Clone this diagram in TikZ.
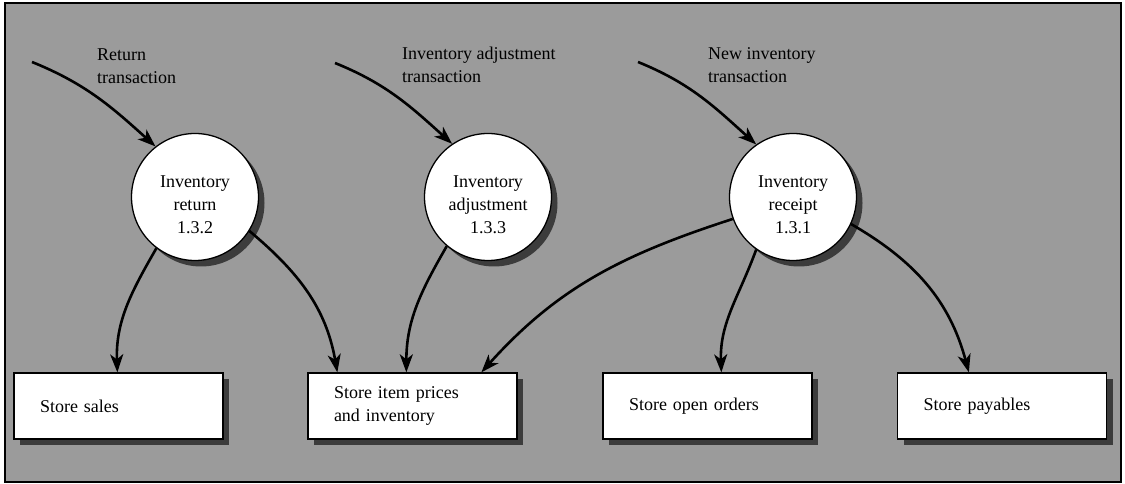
\documentclass[tikz,border=0pt]{standalone}
\usepackage{fontspec}
\setmainfont{Liberation Serif}
\usetikzlibrary{arrows.meta}
\definecolor{bg}{RGB}{155,155,155}
\definecolor{shade}{RGB}{60,60,60}
\begin{document}
\begin{tikzpicture}[x=1pt,y=1pt,
  proc/.style={circle, draw=black, line width=1.3pt, fill=white, minimum size=127pt, inner sep=0pt},
  proctext/.style={align=center, font=\fontsize{18}{23}\selectfont, inner sep=0pt},
  store/.style={rectangle, draw=black, line width=1.3pt, fill=white, minimum width=209pt, minimum height=66pt, text width=157pt, inner xsep=26pt, inner ysep=0pt, align=left, font=\fontsize{18}{23}\selectfont},
  lab/.style={align=left, anchor=west, inner sep=0pt, font=\fontsize{18}{23}\selectfont},
  flow/.style={line width=2.6pt, -{Stealth[length=18pt,width=13pt,inset=5pt]}},
  shadowc/.style={circle, fill=shade, minimum size=127pt, inner sep=0pt},
  shadowb/.style={rectangle, fill=shade, minimum width=209pt, minimum height=66pt, inner sep=0pt}
]
\useasboundingbox (0,0) rectangle (1125,484);
\draw[fill=bg, line width=2pt] (5,2) rectangle (1121,481);

% shadows
\node[shadowc] (sc1) at (201,281) {};
\node[shadowc] (sc2) at (494,281) {};
\node[shadowc] (sc3) at (799,281) {};
\node[shadowb] (sb1) at (124.5,72) {};
\node[shadowb] (sb2) at (418.5,72) {};
\node[shadowb] (sb3) at (713.5,72) {};
\node[shadowb] (sb4) at (1008,72) {};

% processes
\node[proc] (c1) at (195,287) {};
\node[proc] (c2) at (488,287) {};
\node[proc] (c3) at (793,287) {};
\node[proctext] (t1) at (195,279) {Inventory\\return\\1.3.2};
\node[proctext] (t2) at (488,279) {Inventory\\adjustment\\1.3.3};
\node[proctext] (t3) at (793,279) {Inventory\\receipt\\1.3.1};

% stores
\node[store] (b1) at (118.5,78) {Store sales};
\node[store] (b2) at (412.5,78) {Store item prices\\and inventory};
\node[store] (b3) at (707.5,78) {Store open orders};
\node[store] (b4) at (1002,78) {Store payables};

% input labels
\node[lab] (l1) at (97,418) {Return\\transaction};
\node[lab] (l2) at (402,419) {Inventory adjustment\\transaction};
\node[lab] (l3) at (708,419) {New inventory\\transaction};

\coordinate (in1) at (32,422);
\coordinate (in2) at (335,421);
\coordinate (in3) at (638,422);

\draw[flow] (in1) to[out=-22,in=138] (c1.128);
\draw[flow] (in2) to[out=-22,in=138] (c2.124);
\draw[flow] (in3) to[out=-22,in=138] (c3.125);

\draw[flow] (c1.233) to[out=240,in=92] ([xshift=104pt]b1.north west);
\draw[flow] (c1.-32) to[out=-40,in=100] ([xshift=30pt]b2.north west);
\draw[flow] (c2.230) to[out=240,in=90] ([xshift=99pt]b2.north west);
\draw[flow] (c3.200) to[out=198,in=48] ([xshift=174pt]b2.north west);
\draw[flow] (c3.235) to[out=250,in=92] ([xshift=119pt]b3.north west);
\draw[flow] (c3.-25) to[out=-30,in=105] ([xshift=72pt]b4.north west);
\end{tikzpicture}
\end{document}
